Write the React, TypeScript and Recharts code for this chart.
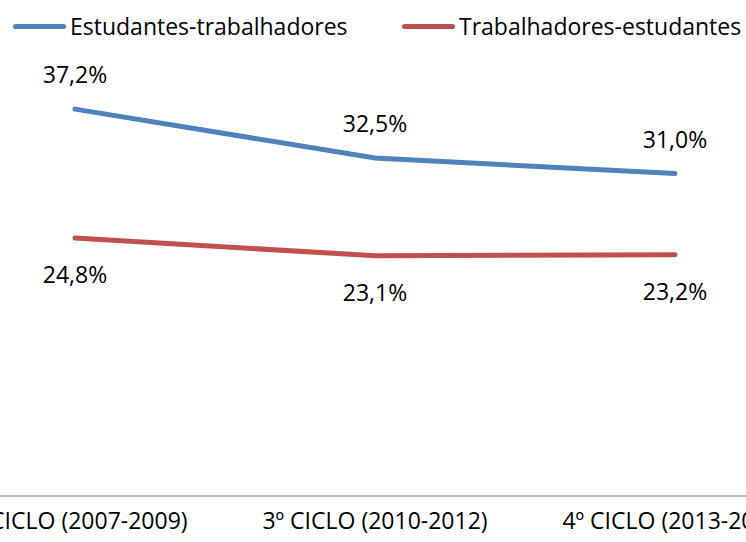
import { LineChart, Line, XAxis, YAxis, LabelList } from "recharts";

const ciclos = ["2º CICLO (2007-2009)", "3º CICLO (2010-2012)", "4º CICLO (2013-2015)"];
const estudantesTrabalhadores = [37.2, 32.5, 31.0];
const trabalhadoresEstudantes = [24.8, 23.1, 23.2];

const seriesInfo = [
  { key: "et", name: "Estudantes-trabalhadores", color: "#4F81BD" },
  { key: "te", name: "Trabalhadores-estudantes", color: "#C0504D" },
];

const data = ciclos.map((c, i) => ({
  ciclo: c,
  et: estudantesTrabalhadores[i],
  te: trabalhadoresEstudantes[i],
}));

const FONT = "'Open Sans', sans-serif";
const FS = 23;
const fmt = (v: any) => `${Number(v).toFixed(1).replace(".", ",")}%`;

function LegendBox() {
  const offsets = [13, 402];
  return (
    <div style={{ position: "absolute", left: 0, top: 0, width: 746, height: 50, fontFamily: FONT, fontSize: FS, color: "#000" }}>
      {seriesInfo.map((s, i) => (
        <div
          key={s.key}
          style={{ position: "absolute", left: offsets[i], top: 11, display: "flex", alignItems: "center", whiteSpace: "nowrap" }}
        >
          <span style={{ display: "inline-block", width: 53, height: 5, borderRadius: 3, background: s.color, marginRight: 4 }} />
          <span style={{ lineHeight: "30px" }}>{s.name}</span>
        </div>
      ))}
    </div>
  );
}

export default function App() {
  return (
    <div style={{ position: "fixed", left: 0, top: 0, width: 746, height: 542, overflow: "hidden", background: "#fff" }}>
      <div style={{ position: "absolute", left: -75, top: 0 }}>
        <LineChart width={900} height={542} data={data} margin={{ top: 80, right: 0, bottom: 0, left: 0 }}>
          <XAxis
            dataKey="ciclo"
            height={46}
            padding={{ left: 150, right: 150 }}
            tickLine={false}
            tickSize={0}
            tickMargin={17}
            axisLine={{ stroke: "#A6A6A6", strokeWidth: 1.5 }}
            tick={{ fill: "#000", fontSize: FS, fontFamily: FONT }}
            interval={0}
          />
          <YAxis hide domain={[0, 40]} />
          <Line
            dataKey="et"
            name={seriesInfo[0].name}
            stroke={seriesInfo[0].color}
            strokeWidth={5}
            strokeLinecap="round"
            dot={false}
            activeDot={false}
            isAnimationActive={false}
          >
            <LabelList
              dataKey="et"
              position="top"
              offset={26}
              formatter={fmt}
              style={{ fill: "#000", fontSize: FS, fontFamily: FONT }}
            />
          </Line>
          <Line
            dataKey="te"
            name={seriesInfo[1].name}
            stroke={seriesInfo[1].color}
            strokeWidth={5}
            strokeLinecap="round"
            dot={false}
            activeDot={false}
            isAnimationActive={false}
          >
            <LabelList
              dataKey="te"
              position="bottom"
              offset={29}
              formatter={fmt}
              style={{ fill: "#000", fontSize: FS, fontFamily: FONT }}
            />
          </Line>
        </LineChart>
      </div>
      <LegendBox />
    </div>
  );
}
